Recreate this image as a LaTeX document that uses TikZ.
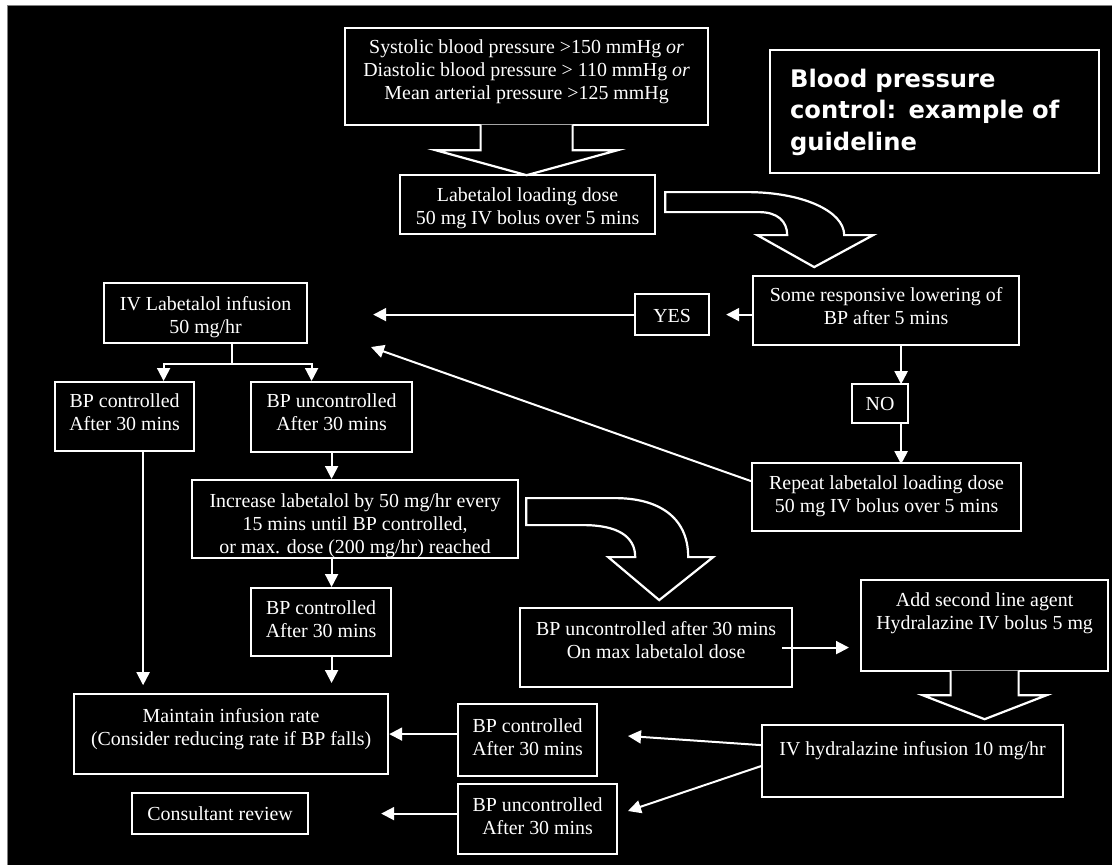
\documentclass[tikz,border=0pt]{standalone}
\usepackage{fontspec}
\setmainfont{Liberation Serif}
\newfontfamily\titlefont{DejaVu Sans}
\usetikzlibrary{arrows.meta,calc}
\tikzset{
	caixa/.style={draw=white, fill=black, text=white, line width=2.2pt, inner sep=0pt,
		align=center, anchor=north west, font=\fontsize{19.9}{23}\selectfont},
	fletxa/.style={draw=white, line width=2pt, -{Triangle[width=13pt,length=13pt]}},
	linia/.style={draw=white, line width=2pt},
	bloc/.style={draw=white, fill=black, line width=2.2pt},
}

\begin{document}
\begin{tikzpicture}[x=1pt, y=-1pt]
	\useasboundingbox (0,0) rectangle (1112,865);
	% fons
	\fill[white] (0,0) rectangle (1112,865);
	\fill[black] (7,5) rectangle (1112,865);
	\draw[gray, line width=1pt] (7,865) -- (7,5) -- (1112,5);
	% caixes
	\node[caixa, minimum width=363pt, minimum height=97pt, text height=71pt, text depth=26pt] (trig) at (344,27)
		{Systolic blood pressure >150 mmHg \textit{or}\\Diastolic blood pressure > 110 mmHg \textit{or}\\Mean arterial pressure >125 mmHg};
	\node[caixa, minimum width=255pt, minimum height=59pt, text height=49pt, text depth=10pt] (load) at (399,174)
		{Labetalol loading dose\\50 mg IV bolus over 5 mins};
	\node[caixa, font=\titlefont\bfseries\fontsize{24.2}{31.5}\selectfont, align=left, text width=289pt, inner xsep=20pt,
		minimum height=123pt, text height=37pt, text depth=86pt] (titol) at (769,49)
		{Blood pressure\\control: example of\\guideline};
	\node[caixa, minimum width=203pt, minimum height=60pt, text height=50pt, text depth=10pt] (infus) at (103,282)
		{IV Labetalol infusion\\50 mg/hr};
	\node[caixa, minimum width=266pt, minimum height=69pt, text height=48pt, text depth=21pt] (resp) at (752,275)
		{Some responsive lowering of\\BP after 5 mins};
	\node[caixa, minimum width=74pt, minimum height=41pt, text height=28pt, text depth=13pt] (yes) at (634,293) {YES};
	\node[caixa, minimum width=56pt, minimum height=39pt, text height=26pt, text depth=13pt] (no) at (851,383) {NO};
	\node[caixa, minimum width=269pt, minimum height=68pt, text height=49pt, text depth=19pt] (rep) at (751,462)
		{Repeat labetalol loading dose\\50 mg IV bolus over 5 mins};
	\node[caixa, minimum width=139pt, minimum height=69pt, text height=48pt, text depth=21pt] (ctrlA) at (54,381)
		{BP controlled\\After 30 mins};
	\node[caixa, minimum width=161pt, minimum height=70pt, text height=48pt, text depth=22pt] (unctrlA) at (250,381)
		{BP uncontrolled\\After 30 mins};
	\node[caixa, minimum width=326pt, minimum height=78pt, text height=73pt, text depth=5pt] (incr) at (191,479)
		{Increase labetalol by 50 mg/hr every\\15 mins until BP controlled,\\or max. dose (200 mg/hr) reached};
	\node[caixa, minimum width=140pt, minimum height=68pt, text height=49pt, text depth=19pt] (ctrlC) at (250,587)
		{BP controlled\\After 30 mins};
	\node[caixa, minimum width=272pt, minimum height=79pt, text height=50pt, text depth=29pt] (maxd) at (519,607)
		{BP uncontrolled after 30 mins\\On max labetalol dose};
	\node[caixa, minimum width=247pt, minimum height=91pt, text height=49pt, text depth=42pt] (addh) at (860,579)
		{Add second line agent\\Hydralazine IV bolus 5 mg};
	\node[caixa, minimum width=301pt, minimum height=72pt, text height=30pt, text depth=42pt] (hinf) at (761,724)
		{IV hydralazine infusion 10 mg/hr};
	\node[caixa, minimum width=139pt, minimum height=72pt, text height=51pt, text depth=21pt] (ctrlB) at (457,703)
		{BP controlled\\After 30 mins};
	\node[caixa, minimum width=159pt, minimum height=70pt, text height=50pt, text depth=20pt] (unctrlB) at (457,783)
		{BP uncontrolled\\After 30 mins};
	\node[caixa, minimum width=314pt, minimum height=80pt, text height=51pt, text depth=29pt] (maint) at (73,693)
		{Maintain infusion rate\\(Consider reducing rate if BP falls)};
	\node[caixa, minimum width=176pt, minimum height=41pt, text height=27pt, text depth=14pt] (cons) at (131,792)
		{Consultant review};
	% fletxes grosses
	\path[bloc, shift={(trig.south)}] (-46,-1.5) -- (-46,24) -- (-91,24) -- (0,49) -- (91,24) -- (46,24) -- (46,-1.5);
	\path[bloc, shift={(load.east)}] (9,-12.5) -- (91,-12.5) .. controls (146,-12.5) and (188,6.5) .. (188,30.5)
		-- (217,30.5) -- (158,62.5) -- (101,30.5) -- (131,30.5) .. controls (131,16.5) and (121,7.5) .. (103,7.5)
		-- (9,7.5) -- cycle;
	\path[bloc, shift={(incr.east)}] (7,-21) -- (96,-21) .. controls (138,-21) and (169,-3) .. (169,38)
		-- (194,38) -- (140,81) -- (89,38) -- (116,38) .. controls (116,17) and (98,6) .. (64,6)
		-- (7,6) -- cycle;
	\path[bloc, shift={(addh.south)}] (-34,-1.5) -- (-34,23) -- (-62,23) -- (0,47) -- (62,23) -- (34,23) -- (34,-1.5);
	% YES / NO
	\draw[fletxa, shorten >=16pt] (resp.west |- yes.east) -- (yes.east);
	\draw[fletxa, shorten >=65pt] (yes.west) -- (infus.east |- yes.west);
	\draw[fletxa] ([xshift=15pt]resp.south) -- ++(0,38);
	\draw[fletxa] ([xshift=21pt]no.south) -- ++(0,40);
	\coordinate (dtip) at (371,347);
	\draw[fletxa] ([yshift=16pt]rep.west) -- (dtip);
	% infusio
	\draw[linia] ([xshift=26.5pt]infus.south) -- ++(0,20) coordinate (br);
	\draw[fletxa] (br) -| ([xshift=39pt]ctrlA.north);
	\draw[fletxa] (br) -| ([xshift=-20pt]unctrlA.north);
	\draw[fletxa, shorten >=10pt] ([xshift=18.5pt]ctrlA.south) -- ++(0,243);
	\draw[fletxa] (unctrlA.south) -- (unctrlA.south |- incr.north);
	\draw[fletxa] (incr.south -| unctrlA.south) -- (ctrlC.north -| unctrlA.south);
	\draw[fletxa, shorten >=10pt] (ctrlC.south -| unctrlA.south) -- (maint.north -| unctrlA.south);
	% hidralazina
	\draw[fletxa, shorten >=11pt] ([xshift=-11pt]maxd.east) -- (addh.west |- maxd.east);
	\coordinate (ctip) at (628,736);
	\coordinate (utip) at (628,811);
	\draw[fletxa] ([yshift=16pt]hinf.west) -- (ctip);
	\draw[fletxa] ([yshift=-5pt]hinf.west) -- (utip);
	\draw[fletxa] (ctrlB.west |- maint.east) -- (maint.east);
	\draw[fletxa, shorten >=72pt] (unctrlB.west |- cons.east) -- (cons.east);
\end{tikzpicture}
\end{document}
